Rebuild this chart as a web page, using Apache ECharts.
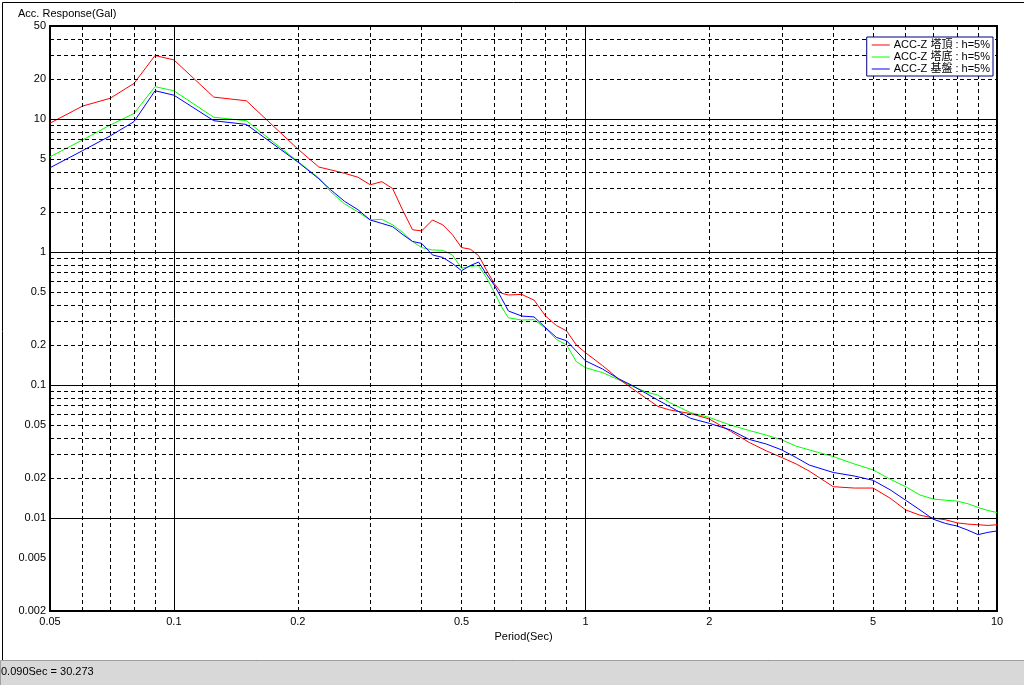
<!DOCTYPE html>
<html>
<head>
<meta charset="utf-8">
<script src="https://cdn.jsdelivr.net/npm/echarts@6/dist/echarts.min.js"></script>
<style>
html,body{margin:0;padding:0;background:#fff;}
#chart{width:1024px;height:685px;}
</style>
</head>
<body>
<div id="chart"></div>
<script>
// ---- data ----
const periods = [0.05,0.06,0.07,0.08,0.09,0.1,0.125,0.15,0.2,0.225,0.24,0.26,0.28,0.3,0.32,0.34,0.36,0.38,0.4,0.425,0.45,0.475,0.5,0.525,0.55,0.575,0.6,0.625,0.65,0.7,0.75,0.8,0.85,0.9,0.95,1.0,1.1,1.2,1.3,1.4,1.5,1.6,1.8,2.0,2.25,2.5,2.75,3.0,3.25,3.5,4.0,4.5,5.0,5.5,6.0,6.5,7.0,7.5,8.0,8.5,9.0,9.5,10];
const accTop = [9.3,12.5,14.3,18.5,30.0,27.8,14.6,13.7,5.95,4.35,4.15,3.9,3.65,3.2,3.38,3.0,2.05,1.47,1.44,1.74,1.6,1.35,1.08,1.05,0.94,0.73,0.58,0.49,0.475,0.48,0.435,0.33,0.28,0.255,0.2,0.175,0.14,0.112,0.094,0.08,0.069,0.065,0.061,0.0555,0.045,0.037,0.032,0.0285,0.0255,0.0225,0.0172,0.0168,0.0168,0.0141,0.0115,0.0105,0.0100,0.0097,0.0092,0.0090,0.0089,0.0088,0.0089];
const accBase = [5.2,6.95,9.0,11.0,17.5,16.3,10.3,9.7,4.8,3.6,2.85,2.3,2.0,1.74,1.76,1.6,1.4,1.2,1.08,1.035,1.03,0.95,0.754,0.78,0.79,0.64,0.5,0.388,0.32,0.308,0.31,0.267,0.22,0.2,0.15,0.135,0.124,0.11,0.098,0.089,0.084,0.074,0.062,0.057,0.05,0.0455,0.042,0.0387,0.0347,0.0325,0.029,0.0255,0.023,0.0196,0.0172,0.0149,0.0139,0.0136,0.0134,0.0128,0.012,0.0114,0.011];
const accGround = [4.3,5.78,7.45,9.55,16.3,15.1,9.7,9.1,4.75,3.55,2.95,2.4,2.08,1.74,1.64,1.55,1.35,1.2,1.16,0.95,0.91,0.82,0.724,0.79,0.84,0.68,0.565,0.45,0.36,0.33,0.325,0.27,0.228,0.215,0.18,0.152,0.132,0.112,0.099,0.087,0.077,0.069,0.0562,0.0515,0.046,0.039,0.036,0.0325,0.0285,0.025,0.022,0.0207,0.0192,0.0163,0.0136,0.0115,0.0098,0.0091,0.0087,0.0081,0.0075,0.0078,0.008];
const seriesNames = ['ACC-Z 塔頂 : h=5%','ACC-Z 塔底 : h=5%','ACC-Z 基盤 : h=5%'];
const xLabelTicks = [0.05,0.1,0.2,0.5,1,2,5,10];
const yLabelTicks = [0.002,0.005,0.01,0.02,0.05,0.1,0.2,0.5,1,2,5,10,20,50];
const xMajorLines = [0.1,1];
const xMinorLines = [0.06,0.07,0.08,0.09,0.2,0.3,0.4,0.5,0.6,0.7,0.8,0.9,2,3,4,5,6,7,8,9];
const yMajorLines = [0.01,0.1,1,10];
const yMinorLines = [0.003,0.004,0.005,0.006,0.007,0.008,0.009,0.02,0.03,0.04,0.05,0.06,0.07,0.08,0.09,0.2,0.3,0.4,0.5,0.6,0.7,0.8,0.9,2,3,4,5,6,7,8,9,20,30,40];
const statusText = '0.090Sec = 30.273';

// ---- chart ----
const chart = echarts.init(document.getElementById('chart'), null, {renderer:'canvas'});
const fontFam = '"Liberation Sans", Arial, "Noto Sans CJK JP", sans-serif';
const pair = (arr) => periods.map((p,i) => [p, arr[i]]);
const fmt = (v) => String(+(+v).toPrecision(3));

const gridLines = [];
xMinorLines.forEach(v => gridLines.push({xAxis: v, lineStyle:{type:[4,3], color:'#000', width:1}}));
yMinorLines.forEach(v => gridLines.push({yAxis: v, lineStyle:{type:[4,3], color:'#000', width:1}}));
xMajorLines.forEach(v => gridLines.push({xAxis: v, lineStyle:{type:'solid', color:'#000', width:1}}));
yMajorLines.forEach(v => gridLines.push({yAxis: v, lineStyle:{type:'solid', color:'#000', width:1}}));

const lineSeries = (name, arr, color, z) => ({
  name, type:'line', data: pair(arr), symbol:'none', showSymbol:false,
  lineStyle:{color, width:1}, itemStyle:{color}, z, animation:false
});

chart.setOption({
  animation:false,
  backgroundColor:'#ffffff',
  textStyle:{fontFamily: fontFam},
  title:{text:'Acc. Response(Gal)', left:18, top:8, padding:0,
    textStyle:{fontSize:11, fontWeight:'normal', color:'#000', fontFamily:fontFam}},
  graphic:[
    {type:'rect', left:0, top:0, shape:{x:0,y:0,width:1022,height:658}, style:{fill:'none', stroke:'#000', lineWidth:1}, z:-10, silent:true},
    {type:'rect', left:0, top:660, shape:{x:0,y:0,width:1024,height:25}, style:{fill:'#d8d8d8', stroke:'#a0a0a0', lineWidth:1}, silent:true},
    {type:'text', left:1, top:666, style:{text:statusText, fill:'#000', font:'11px "Liberation Sans", Arial, sans-serif'}, silent:true}
  ],
  legend:{
    data: seriesNames, orient:'vertical', right:31, top:37, z:20, zlevel:0,
    backgroundColor:'#ffffff', borderColor:'#000080', borderWidth:1,
    padding:[2,3,1,5], itemGap:0, itemWidth:18, itemHeight:1, icon:'rect',
    textStyle:{fontSize:11, color:'#000', lineHeight:12, padding:[0,0,0,-1], fontFamily:'"Liberation Sans", Arial, "Noto Sans CJK JP", sans-serif'},
    selectedMode:false
  },
  grid:{left:50, right:27, top:26, bottom:74, show:true, borderColor:'#000', borderWidth:2, backgroundColor:'transparent'},
  xAxis:{
    type:'log', logBase:10, min:0.05, max:10,
    name:'Period(Sec)', nameLocation:'middle', nameGap:20,
    nameTextStyle:{fontSize:11, color:'#000'},
    axisLine:{show:false}, axisTick:{show:false}, splitLine:{show:false}, minorTick:{show:false}, minorSplitLine:{show:false},
    axisLabel:{customValues:xLabelTicks, formatter:fmt, fontSize:11, color:'#000', margin:5, showMinLabel:true, showMaxLabel:true}
  },
  yAxis:{
    type:'log', logBase:10, min:0.002, max:50,
    axisLine:{show:false}, axisTick:{show:false}, splitLine:{show:false}, minorTick:{show:false}, minorSplitLine:{show:false},
    axisLabel:{customValues:yLabelTicks, formatter:fmt, fontSize:11, color:'#000', margin:4, showMinLabel:true, showMaxLabel:true}
  },
  series:[
    {name:'grid', type:'line', data:[], silent:true, z:1,
      markLine:{silent:true, symbol:'none', label:{show:false}, animation:false, data: gridLines}},
    lineSeries(seriesNames[0], accTop, '#ff0000', 4),
    lineSeries(seriesNames[1], accBase, '#00ff00', 3),
    lineSeries(seriesNames[2], accGround, '#0000ff', 5)
  ]
});
</script>
</body>
</html>
